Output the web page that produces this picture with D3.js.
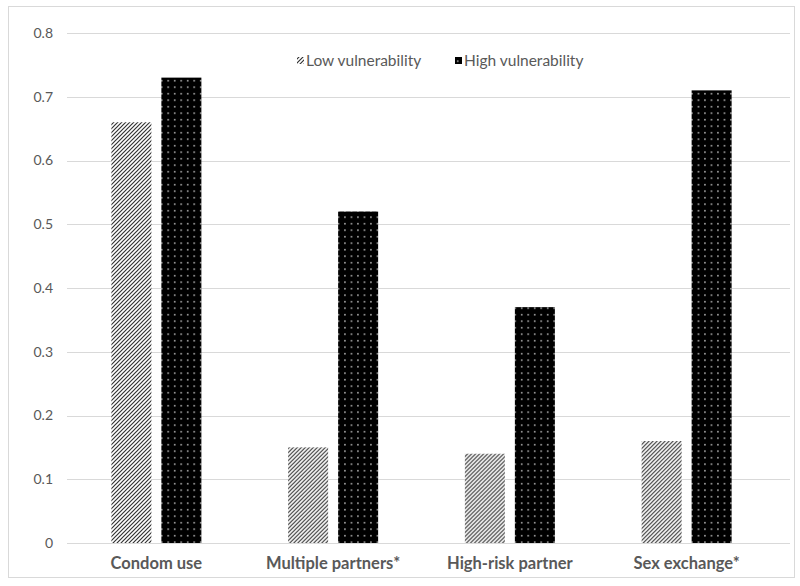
<!DOCTYPE html>
<html><head><meta charset="utf-8">
<script src="https://cdn.jsdelivr.net/npm/d3@7"></script>
<style>body{margin:0;background:#fff;}svg{display:block;font-family:Lato,"Open Sans",sans-serif;}</style>
</head><body>
<svg id="chart" width="800" height="586"></svg>
<script>
const categories = ["Condom use", "Multiple partners*", "High-risk partner", "Sex exchange*"];
const seriesNames = ["Low vulnerability", "High vulnerability"];
const lowValues = [0.66, 0.15, 0.14, 0.16];
const highValues = [0.73, 0.52, 0.37, 0.71];
const yTicks = [0, 0.1, 0.2, 0.3, 0.4, 0.5, 0.6, 0.7, 0.8];

(function(){
const svg = d3.select("#chart");
const defs = svg.append("defs");
// diagonal hatch
const p1 = defs.append("pattern").attr("id","hatch").attr("patternUnits","userSpaceOnUse")
  .attr("width",4).attr("height",4);
p1.append("rect").attr("width",4).attr("height",4).attr("fill","#fff");
p1.append("path").attr("d","M-1,1 l2,-2 M0,4 l4,-4 M3,5 l2,-2").attr("stroke","#333").attr("stroke-width",1.2);
// dotted black
const p2 = defs.append("pattern").attr("id","dots").attr("patternUnits","userSpaceOnUse")
  .attr("width",6.5).attr("height",6.5);
p2.append("rect").attr("width",6.5).attr("height",6.5).attr("fill","#000");
p2.append("rect").attr("x",2).attr("y",2).attr("width",1.4).attr("height",1.4).attr("fill","#ddd");

// outer border
svg.append("rect").attr("x",8.5).attr("y",6.5).attr("width",786).attr("height",571)
  .attr("fill","#fff").attr("stroke","#d9d9d9");

const mLeft = 67, mRight = 790, bandLeft = 68, bandRight = 775, mTop = 33, mBottom = 543;
const y = d3.scaleLinear().domain([0,0.8]).range([mBottom, mTop]);
const x0 = d3.scaleBand().domain(categories).range([bandLeft, bandRight]);
const x1 = d3.scaleBand().domain(seriesNames).range([0, x0.bandwidth()]).paddingInner(0.2).paddingOuter(0.8675);

// gridlines
svg.append("g").selectAll("line").data(yTicks.filter(d=>d>0)).join("line")
  .attr("x1",mLeft).attr("x2",mRight).attr("y1",d=>Math.round(y(d))+0.5).attr("y2",d=>Math.round(y(d))+0.5)
  .attr("stroke","#d9d9d9").attr("stroke-width",1);

// y axis labels
const yAxis = d3.axisLeft(y).tickValues(yTicks).tickSize(0).tickPadding(14).tickFormat(d=>d===0?"0":d3.format(".1f")(d));
const gy = svg.append("g").attr("transform",`translate(${mLeft},0)`).call(yAxis);
gy.select(".domain").remove();
gy.selectAll("text").attr("font-size",14).attr("fill","#595959").attr("font-family","Lato,'Open Sans',sans-serif");

// bars
const data = categories.map((c,i)=>({cat:c, vals:[{s:seriesNames[0],v:lowValues[i]},{s:seriesNames[1],v:highValues[i]}]}));
const groups = svg.append("g").selectAll("g").data(data).join("g")
  .attr("transform",d=>`translate(${x0(d.cat)},0)`);
groups.selectAll("rect").data(d=>d.vals).join("rect")
  .attr("x",d=>x1(d.s)).attr("width",x1.bandwidth())
  .attr("y",d=>y(d.v)).attr("height",d=>y(0)-y(d.v))
  .attr("fill",d=>d.s===seriesNames[0]?"url(#hatch)":"url(#dots)");

// baseline
svg.append("line").attr("x1",mLeft).attr("x2",mRight).attr("y1",mBottom+0.5).attr("y2",mBottom+0.5)
  .attr("stroke","#d9d9d9").attr("stroke-width",1);

// x axis labels
const xAxis = d3.axisBottom(x0).tickSize(0).tickPadding(14);
const gx = svg.append("g").attr("transform",`translate(0,${mBottom})`).call(xAxis);
gx.select(".domain").remove();
gx.selectAll("text").attr("font-size",16.5).attr("font-weight","bold").attr("fill","#595959").attr("font-family","Lato,'Open Sans',sans-serif");

// legend
const legend = svg.append("g");
const legItems = [{s:seriesNames[0],x:297,fill:"url(#hatch)"},{s:seriesNames[1],x:455,fill:"url(#dots)"}];
legItems.forEach(it=>{
  legend.append("rect").attr("x",it.x).attr("y",57).attr("width",7).attr("height",7).attr("fill",it.fill);
  legend.append("text").attr("x",it.x+9).attr("y",66).attr("font-size",15.5).attr("fill","#595959").text(it.s);
});
})();
</script>
</body></html>
